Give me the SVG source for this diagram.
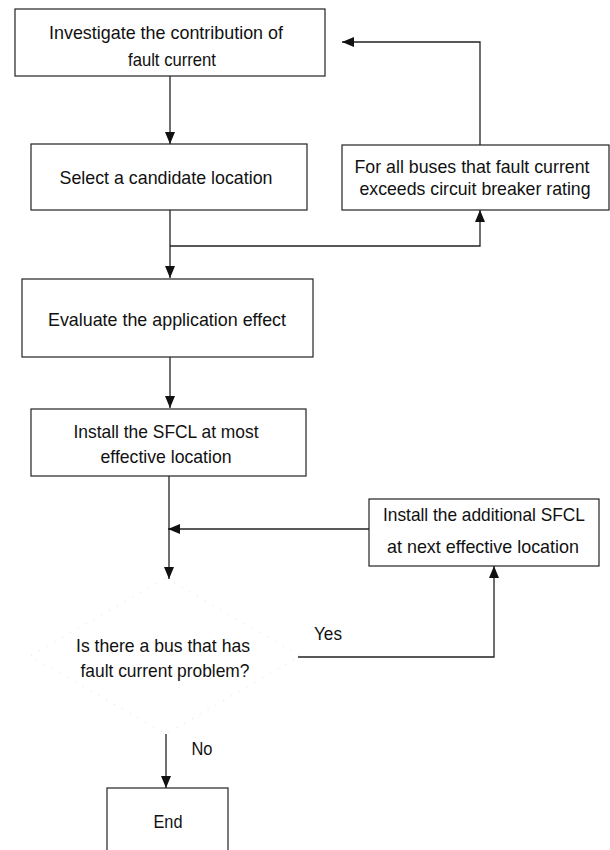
<svg xmlns="http://www.w3.org/2000/svg" width="610" height="850" viewBox="0 0 610 850">
<style>
.box{fill:#fff;stroke:#222;stroke-width:1.2}
.t{font-family:"Liberation Sans",Arial,sans-serif;font-size:18.5px;fill:#111;text-anchor:middle}
.c{fill:none;stroke:#222;stroke-width:1.3}
.dia{fill:none;stroke:#dedede;stroke-width:1;stroke-dasharray:1 8}
</style>
<defs>
<marker id="ah" markerUnits="userSpaceOnUse" markerWidth="12" markerHeight="14" refX="12" refY="5" orient="auto">
<path d="M0,0 L12,5 L0,10 Z" fill="#111"/>
</marker>
</defs>
<rect width="610" height="850" fill="#fff"/>
<g id="n1"><rect class="box" x="15" y="9" width="310" height="67"/><text class="t" x="166" y="39" textLength="234" lengthAdjust="spacingAndGlyphs">Investigate the contribution of</text><text class="t" x="172" y="66" textLength="88" lengthAdjust="spacingAndGlyphs">fault current</text></g>
<g id="n2"><rect class="box" x="31" y="144" width="276" height="66"/><text class="t" x="166" y="184" textLength="213" lengthAdjust="spacingAndGlyphs">Select a candidate location</text></g>
<g id="n3"><rect class="box" x="342" y="145" width="267" height="65"/><text class="t" x="472" y="173" textLength="235" lengthAdjust="spacingAndGlyphs">For all buses that fault current</text><text class="t" x="475" y="195" textLength="231" lengthAdjust="spacingAndGlyphs">exceeds circuit breaker rating</text></g>
<g id="n4"><rect class="box" x="22" y="279" width="291" height="78"/><text class="t" x="167" y="326" textLength="238" lengthAdjust="spacingAndGlyphs">Evaluate the application effect</text></g>
<g id="n5"><rect class="box" x="31" y="409" width="275" height="67"/><text class="t" x="166" y="438" textLength="185" lengthAdjust="spacingAndGlyphs">Install the SFCL at most</text><text class="t" x="166" y="463" textLength="131" lengthAdjust="spacingAndGlyphs">effective location</text></g>
<g id="n6"><rect class="box" x="369" y="499" width="230" height="67"/><text class="t" x="484" y="521" textLength="202" lengthAdjust="spacingAndGlyphs">Install the additional SFCL</text><text class="t" x="483" y="553" textLength="192" lengthAdjust="spacingAndGlyphs">at next effective location</text></g>
<g id="n7"><path class="dia" d="M166,578 L300,656 L166,734 L30,656 Z"/><text class="t" x="163" y="652" textLength="174" lengthAdjust="spacingAndGlyphs">Is there a bus that has</text><text class="t" x="165" y="677" textLength="169" lengthAdjust="spacingAndGlyphs">fault current problem?</text></g>
<g id="n8"><rect class="box" x="107" y="788" width="121" height="80"/><text class="t" x="168" y="828" textLength="29" lengthAdjust="spacingAndGlyphs">End</text></g>
<g id="connectors">
<path class="c" d="M170,76 V144" marker-end="url(#ah)"/>
<path class="c" d="M170,210 V278" marker-end="url(#ah)"/>
<path class="c" d="M170,246 H480 V210" marker-end="url(#ah)"/>
<path class="c" d="M480,145 V42 H342" marker-end="url(#ah)"/>
<path class="c" d="M170,357 V408" marker-end="url(#ah)"/>
<path class="c" d="M169,476 V579" marker-end="url(#ah)"/>
<path class="c" d="M369,529 H168" marker-end="url(#ah)"/>
<path class="c" d="M298,657 H494 V566" marker-end="url(#ah)"/>
<path class="c" d="M166,734 V788" marker-end="url(#ah)"/>
<text class="t" x="328" y="640" textLength="28" lengthAdjust="spacingAndGlyphs">Yes</text>
<text class="t" x="202" y="755" textLength="21" lengthAdjust="spacingAndGlyphs">No</text>
</g>
</svg>
